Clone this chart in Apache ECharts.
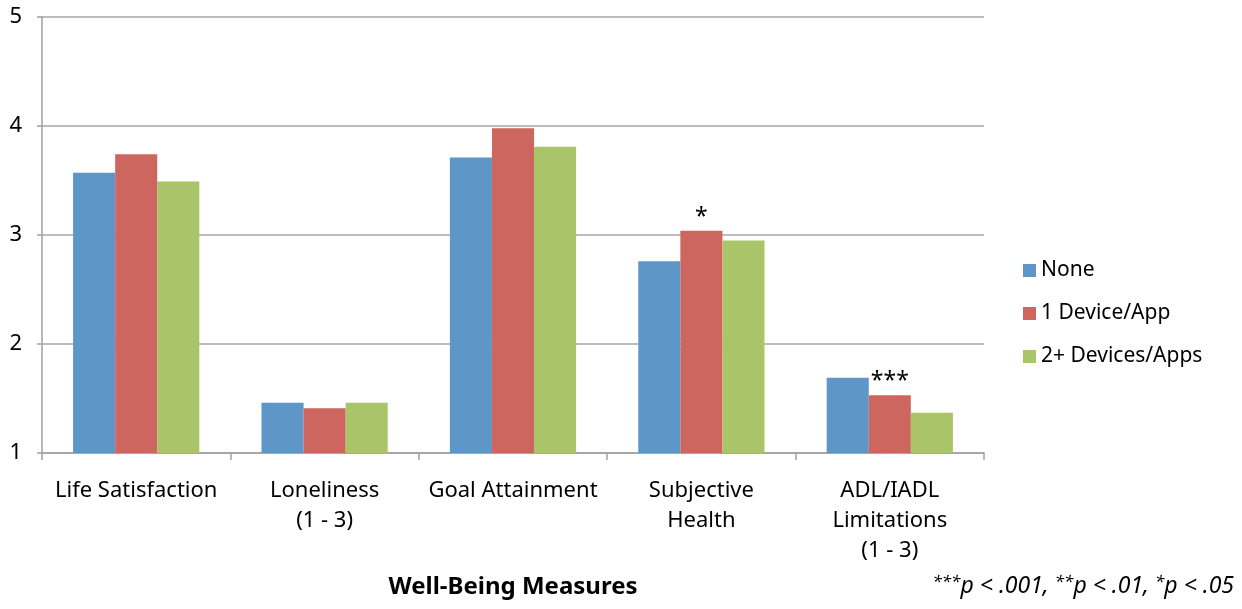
<!DOCTYPE html>
<html><head><meta charset="utf-8">
<script src="https://cdn.jsdelivr.net/npm/echarts@6/dist/echarts.min.js"></script>
<style>html,body{margin:0;padding:0;background:#fff}#c{width:1242px;height:609px}</style>
</head><body><div id="c"></div>
<script>
const categories = ['Life Satisfaction', 'Loneliness\n(1 - 3)', 'Goal Attainment', 'Subjective\nHealth', 'ADL/IADL\nLimitations\n(1 - 3)'];
const seriesNames = ['None', '1 Device/App', '2+ Devices/Apps'];
const noneVals = [3.57, 1.46, 3.71, 2.76, 1.69];
const oneDeviceVals = [3.74, 1.41, 3.98, 3.04, 1.53];
const twoPlusVals = [3.49, 1.46, 3.81, 2.95, 1.37];
const significance = ['', '', '', '*', '***'];
const yTicks = [1, 2, 3, 4, 5];
const colors = ['#5F96C8', '#CD665F', '#AAC46A'];
const FONT = 'Noto Sans';

const chart = echarts.init(document.getElementById('c'), null, {renderer: 'canvas'});
const base = {type: 'bar', barGap: '0%', barCategoryGap: '33%', animation: false,
  itemStyle: {borderWidth: 0}};
chart.setOption({
  textStyle: {fontFamily: FONT},
  color: colors,
  grid: {left: 42, right: 258, top: 17, bottom: 156, containLabel: false},
  legend: {
    orient: 'vertical', left: 1018, top: 255, itemWidth: 13, itemHeight: 13, itemGap: 22,
    icon: 'rect', textStyle: {fontSize: 21, color: '#000', fontFamily: FONT},
    data: seriesNames
  },
  xAxis: {
    type: 'category', data: categories,
    axisLine: {lineStyle: {color: '#A0A0A0', width: 1.5}},
    axisTick: {show: true, length: 7, lineStyle: {color: '#A0A0A0', width: 1.5}},
    axisLabel: {color: '#000', fontSize: 22, lineHeight: 30, margin: 23, interval: 0, fontFamily: FONT}
  },
  yAxis: {
    type: 'value', min: yTicks[0], max: yTicks[yTicks.length - 1], interval: 1,
    axisLine: {show: true, lineStyle: {color: '#A0A0A0', width: 1.5}},
    axisTick: {show: true, length: 5, lineStyle: {color: '#A0A0A0', width: 1.5}},
    splitLine: {lineStyle: {color: '#A6A6A6', width: 1.5}},
    axisLabel: {color: '#000', fontSize: 22, margin: 20, fontFamily: FONT}
  },
  series: [
    Object.assign({}, base, {name: seriesNames[0], data: noneVals}),
    Object.assign({}, base, {name: seriesNames[1], data: oneDeviceVals.map((v, i) => ({
      value: v,
      label: {show: significance[i] !== '', position: 'top', distance: 2, formatter: significance[i],
        fontSize: 23, color: '#000', fontFamily: FONT}
    }))}),
    Object.assign({}, base, {name: seriesNames[2], data: twoPlusVals})
  ],
  graphic: [
    {type: 'text', x: 513, y: 575, style: {text: 'Well-Being Measures', font: 'bold 24px "Noto Sans"', fill: '#000', align: 'center'}},
    {type: 'text', right: 8, top: 574, style: {
      text: '{s|***}{t|p < .001, }{s|**}{t|p < .01, }{s|*}{t|p < .05}',
      rich: {
        s: {fontSize: 17, fontStyle: 'italic', fontFamily: FONT, fill: '#000', verticalAlign: 'top', padding: [0, 0, 7, 0]},
        t: {fontSize: 23, fontStyle: 'italic', fontFamily: FONT, fill: '#000'}
      }
    }}
  ]
});
</script></body></html>
